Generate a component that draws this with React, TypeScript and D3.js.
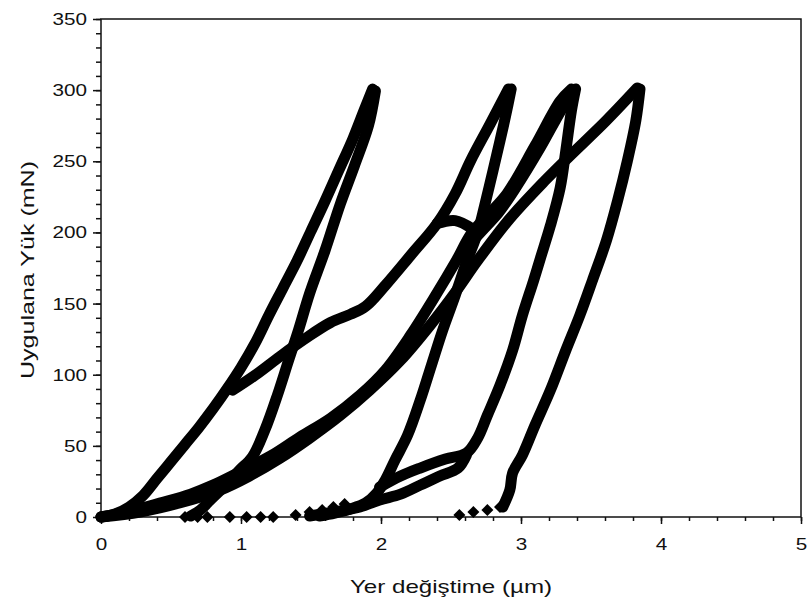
import React, { useEffect, useRef } from 'react';
import * as d3 from 'd3';

// displacement (µm), load (mN) pairs
const loading1 = [[0, 0], [0.10, 2.1], [0.20, 7], [0.30, 15], [0.40, 27], [0.50, 39], [0.60, 51], [0.70, 63], [0.80, 76], [0.90, 90], [1.00, 105], [1.10, 122], [1.20, 142], [1.30, 161], [1.40, 180], [1.50, 201], [1.60, 222], [1.70, 244], [1.80, 266], [1.88, 286], [1.94, 300.8]];
const unloading1 = [[1.96, 299.4], [1.91, 274.9], [1.81, 246.8], [1.71, 220.2], [1.60, 187.2], [1.49, 157.1], [1.41, 131.1], [1.34, 110.1], [1.26, 85.6], [1.17, 61.0], [1.08, 42.1], [0.99, 33.0], [0.89, 22.4], [0.78, 11.9], [0.71, 4.9], [0.64, 0.7]];
const loading2 = [[0.94, 89.1], [1.10, 99.6], [1.28, 112.9], [1.46, 125.5], [1.64, 136.7], [1.78, 142.4], [1.89, 148.0], [2.03, 162.7], [2.21, 183.7], [2.40, 206.2], [2.53, 227.2], [2.64, 250.4], [2.78, 276.3], [2.91, 300.8]];
const popIn2 = [[2.40, 206.2], [2.53, 208.3], [2.65, 202.7]];
const unloading2 = [[2.93, 300.8], [2.89, 281.9], [2.85, 264.4], [2.80, 243.3], [2.74, 218.8], [2.69, 199.9], [2.61, 178.8], [2.53, 155.7], [2.44, 131.1], [2.36, 106.6], [2.28, 82.0], [2.19, 57.5], [2.10, 40.0], [2.03, 25.9], [1.97, 16.8], [1.89, 9.8], [1.78, 5.6], [1.67, 2.8], [1.56, 0.7]];
const loading3 = [[0, 0], [0.21, 4.2], [0.42, 9.8], [0.64, 16.1], [0.80, 22.4], [0.99, 31.6], [1.21, 42.8], [1.42, 56.1], [1.64, 69.4], [1.85, 85.6], [2.03, 103.1], [2.21, 127.6], [2.39, 155.7], [2.53, 178.8], [2.65, 199.9], [2.78, 213.9], [2.90, 227.2], [3.10, 260.9], [3.28, 292.4], [3.36, 300.8]];
// second trace running just beside loading3 near its peak
const loading3b = [[2.62, 190.0], [2.72, 201.0], [2.84, 214.0], [2.96, 231.0], [3.14, 260.0], [3.30, 288.0], [3.38, 299.0]];
const unloading3 = [[3.39, 300.8], [3.36, 285.4], [3.32, 257.4], [3.28, 231.4], [3.21, 204.8], [3.14, 182.3], [3.09, 166.2], [3.01, 141.7], [2.94, 117.1], [2.85, 92.6], [2.76, 71.5], [2.69, 55.4], [2.61, 44.9], [2.46, 40.7], [2.28, 34.4], [2.14, 28.8], [1.99, 21.0]];
const reload3 = [[2.61, 43.5], [2.55, 34.4], [2.42, 28.8], [2.28, 22.4], [2.14, 16.1], [1.99, 11.9], [1.85, 7.0], [1.71, 4.2], [1.58, 2.1], [1.49, 0.7]];
const loading4 = [[0, 0], [0.28, 3.5], [0.56, 9.8], [0.85, 18.9], [1.06, 28.8], [1.28, 41.4], [1.49, 55.4], [1.71, 71.5], [1.92, 89.1], [2.14, 110.1], [2.35, 134.6], [2.53, 157.8], [2.69, 180.2], [2.92, 209.7], [3.17, 236.3], [3.35, 253.9], [3.60, 277.7], [3.83, 301.5]];
const unloading4 = [[3.85, 300.8], [3.82, 278.4], [3.76, 250.4], [3.69, 222.3], [3.61, 194.2], [3.51, 166.2], [3.42, 141.7], [3.32, 117.1], [3.21, 89.1], [3.10, 64.5], [3.01, 43.5], [2.94, 30.9], [2.92, 18.9], [2.87, 7.0]];
// loose points near zero load
const tailPoints = [[0.60, 0], [0.69, 0], [0.76, 0], [0.92, 0], [1.04, 0], [1.14, 0], [1.23, 0], [1.39, 1.4], [1.49, 3.5], [1.58, 4.9], [1.66, 7.0], [1.74, 9.1], [2.85, 7.0], [2.76, 4.9], [2.66, 3.5], [2.56, 1.4]];

const xTicks = [0, 1, 2, 3, 4, 5];
const yTicks = [0, 50, 100, 150, 200, 250, 300, 350];

const xTitle = 'Yer değiştime (µm)';
const yTitle = 'Uygulana Yük (mN)';

export default function App() {
    const ref = useRef<SVGSVGElement>(null);

    useEffect(() => {
        const svg = d3.select(ref.current);
        svg.selectAll('*').remove();

        // plot box
        const left = 101, right = 801, top = 19, bottom = 517;
        const font = "'Liberation Sans', Arial, sans-serif";

        const x = d3.scaleLinear().domain([0, 5]).range([left, right]);
        const y = d3.scaleLinear().domain([0, 350]).range([bottom, top]);

        // frame
        svg.append('rect')
            .attr('x', left).attr('y', top)
            .attr('width', right - left).attr('height', bottom - top)
            .attr('fill', 'none').attr('stroke', '#111').attr('stroke-width', 1.5);

        // minor ticks
        const xMinor = d3.range(0, 5.001, 0.2);
        const yMinor = d3.range(0, 350.1, 10);
        svg.append('g')
            .attr('transform', 'translate(0,' + bottom + ')')
            .call(d3.axisBottom(x).tickValues(xMinor).tickSize(4).tickSizeOuter(0).tickFormat(() => ''))
            .call(g => g.select('.domain').remove());
        svg.append('g')
            .attr('transform', 'translate(' + left + ',0)')
            .call(d3.axisLeft(y).tickValues(yMinor).tickSize(5).tickSizeOuter(0).tickFormat(() => ''))
            .call(g => g.select('.domain').remove());

        // major ticks with labels
        const fmt = d3.format('d');
        const xAxis = svg.append('g')
            .attr('transform', 'translate(0,' + bottom + ')')
            .call(d3.axisBottom(x).tickValues(xTicks).tickFormat(fmt).tickSize(7).tickPadding(14).tickSizeOuter(0));
        const yAxis = svg.append('g')
            .attr('transform', 'translate(' + left + ',0)')
            .call(d3.axisLeft(y).tickValues(yTicks).tickFormat(fmt).tickSize(8).tickPadding(6).tickSizeOuter(0));

        [xAxis, yAxis].forEach(g => {
            g.select('.domain').remove();
            g.selectAll('text')
                .attr('fill', '#111')
                .style('font-family', font)
                .style('font-size', '17px')
                .attr('textLength', function () { return (this as SVGTextElement).textContent!.length * 11.5; })
                .attr('lengthAdjust', 'spacingAndGlyphs');
        });
        svg.selectAll('.tick line').attr('stroke', '#111').attr('stroke-width', 1.5);

        // titles
        svg.append('text')
            .attr('x', 451).attr('y', 593)
            .attr('text-anchor', 'middle')
            .attr('textLength', 202).attr('lengthAdjust', 'spacingAndGlyphs')
            .style('font-family', font).style('font-size', '19px')
            .attr('fill', '#111')
            .text(xTitle);

        svg.append('text')
            .attr('transform', 'translate(34,270) rotate(-90)')
            .attr('text-anchor', 'middle')
            .attr('textLength', 218).attr('lengthAdjust', 'spacingAndGlyphs')
            .style('font-family', font).style('font-size', '19px')
            .attr('fill', '#111')
            .text(yTitle);

        // curves
        const line = d3.line<number[]>()
            .x(d => x(d[0]))
            .y(d => y(d[1]))
            .curve(d3.curveCatmullRom.alpha(0.5));

        const curves = [loading4, loading3, loading3b, loading1, unloading1, loading2, popIn2, unloading2, unloading3, reload3, unloading4];
        svg.append('g').selectAll('path')
            .data(curves).enter()
            .append('path')
            .attr('d', d => line(d))
            .attr('fill', 'none')
            .attr('stroke', '#000')
            .attr('stroke-width', 11)
            .attr('stroke-linecap', 'round')
            .attr('stroke-linejoin', 'round');

        // diamond markers
        svg.append('g').selectAll('path')
            .data(tailPoints).enter()
            .append('path')
            .attr('d', 'M0,-6L6,0L0,6L-6,0Z')
            .attr('transform', d => 'translate(' + x(d[0]) + ',' + y(d[1]) + ')')
            .attr('fill', '#000');
    }, []);

    return (
        <svg ref={ref} width={811} height={606}
            style={{ position: 'absolute', left: 0, top: 0, background: '#fff' }} />
    );
}
